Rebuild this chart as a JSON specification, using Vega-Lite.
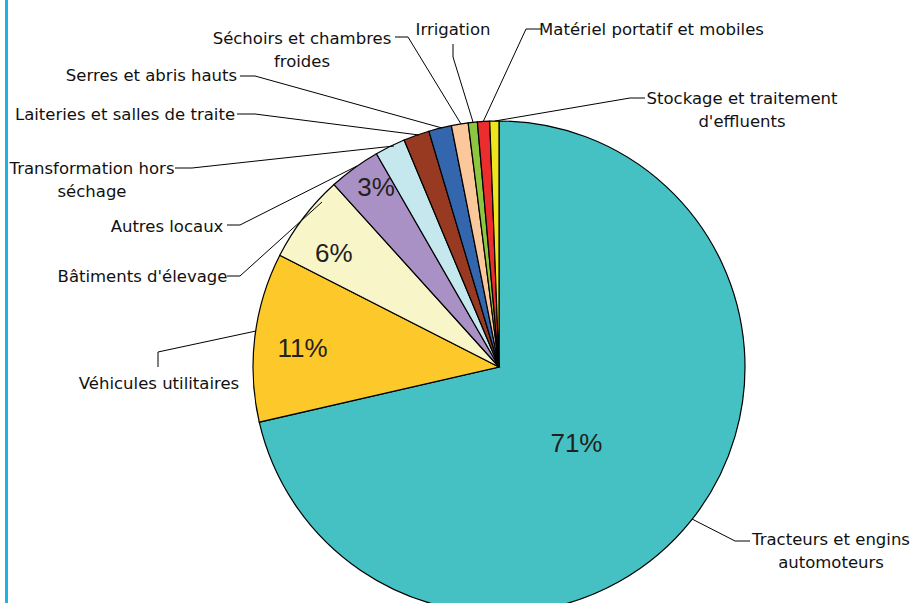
{
  "$schema": "https://vega.github.io/schema/vega-lite/v6.json",
  "width": 915,
  "height": 603,
  "padding": 0,
  "autosize": {"type": "none"},
  "background": "white",
  "config": {"view": {"stroke": null}, "font": "Liberation Sans"},
  "datasets": {
    "slices": [
      {"i": 1, "name": "Tracteurs et engins automoteurs", "v": 0.714},
      {"i": 2, "name": "Véhicules utilitaires", "v": 0.111},
      {"i": 3, "name": "Bâtiments d'élevage", "v": 0.058},
      {"i": 4, "name": "Autres locaux", "v": 0.034},
      {"i": 5, "name": "Transformation hors séchage", "v": 0.020},
      {"i": 6, "name": "Laiteries et salles de traite", "v": 0.017},
      {"i": 7, "name": "Serres et abris hauts", "v": 0.015},
      {"i": 8, "name": "Séchoirs et chambres froides", "v": 0.011},
      {"i": 9, "name": "Irrigation", "v": 0.006},
      {"i": 10, "name": "Matériel portatif et mobiles", "v": 0.008},
      {"i": 11, "name": "Stockage et traitement d'effluents", "v": 0.006}
    ],
    "labels": [
      {"name": "Séchoirs et chambres froides", "label": "Séchoirs et chambres\nfroides", "x": -197, "y": 328.5},
      {"name": "Irrigation", "label": "Irrigation", "x": -46, "y": 337},
      {"name": "Matériel portatif et mobiles", "label": "Matériel portatif et mobiles", "x": 152.5, "y": 337},
      {"name": "Stockage et traitement d'effluents", "label": "Stockage et traitement\nd'effluents", "x": 243, "y": 268.5},
      {"name": "Serres et abris hauts", "label": "Serres et abris hauts", "x": -347.5, "y": 291},
      {"name": "Laiteries et salles de traite", "label": "Laiteries et salles de traite", "x": -374, "y": 252},
      {"name": "Transformation hors séchage", "label": "Transformation hors\nséchage", "x": -407, "y": 198},
      {"name": "Autres locaux", "label": "Autres locaux", "x": -332, "y": 140},
      {"name": "Bâtiments d'élevage", "label": "Bâtiments d'élevage", "x": -356.5, "y": 90},
      {"name": "Véhicules utilitaires", "label": "Véhicules utilitaires", "x": -340, "y": -17},
      {"name": "Tracteurs et engins automoteurs", "label": "Tracteurs et engins\nautomoteurs", "x": 332, "y": -173}
    ],
    "leaders": [
      {"name": "Séchoirs", "k": 0, "x": -104, "y": 330},
      {"name": "Séchoirs", "k": 1, "x": -91, "y": 330},
      {"name": "Séchoirs", "k": 2, "x": -38, "y": 243},
      {"name": "Irrigation", "k": 0, "x": -46, "y": 323},
      {"name": "Irrigation", "k": 1, "x": -46, "y": 310},
      {"name": "Irrigation", "k": 2, "x": -26, "y": 245},
      {"name": "Matériel", "k": 0, "x": 42, "y": 338},
      {"name": "Matériel", "k": 1, "x": 27, "y": 338},
      {"name": "Matériel", "k": 2, "x": -16, "y": 245},
      {"name": "Stockage", "k": 0, "x": 146, "y": 269},
      {"name": "Stockage", "k": 1, "x": 131, "y": 269},
      {"name": "Stockage", "k": 2, "x": -4, "y": 246},
      {"name": "Serres", "k": 0, "x": -259, "y": 291},
      {"name": "Serres", "k": 1, "x": -244, "y": 291},
      {"name": "Serres", "k": 2, "x": -57, "y": 239},
      {"name": "Laiteries", "k": 0, "x": -262, "y": 253},
      {"name": "Laiteries", "k": 1, "x": -244, "y": 253},
      {"name": "Laiteries", "k": 2, "x": -80, "y": 232},
      {"name": "Transformation", "k": 0, "x": -324, "y": 199},
      {"name": "Transformation", "k": 1, "x": -307, "y": 199},
      {"name": "Transformation", "k": 2, "x": -105, "y": 221},
      {"name": "Autres", "k": 0, "x": -272, "y": 142},
      {"name": "Autres", "k": 1, "x": -259, "y": 142},
      {"name": "Autres", "k": 2, "x": -142, "y": 201},
      {"name": "Bâtiments", "k": 0, "x": -272, "y": 91},
      {"name": "Bâtiments", "k": 1, "x": -259, "y": 91},
      {"name": "Bâtiments", "k": 2, "x": -177, "y": 165},
      {"name": "Véhicules", "k": 0, "x": -341, "y": 0},
      {"name": "Véhicules", "k": 1, "x": -341, "y": 15},
      {"name": "Véhicules", "k": 2, "x": -243, "y": 36},
      {"name": "Tracteurs", "k": 0, "x": 251, "y": -174},
      {"name": "Tracteurs", "k": 1, "x": 236, "y": -174},
      {"name": "Tracteurs", "k": 2, "x": 193, "y": -152}
    ],
    "frame": [{"x": -492.5}]
  },
  "layer": [
    {
      "data": {"name": "slices"},
      "mark": {"type": "arc", "radius": 246, "stroke": "#000000", "strokeWidth": 1.2},
      "encoding": {
        "x": {"datum": 0, "type": "quantitative", "scale": {"domain": [-499, 416], "nice": false, "zero": false}, "axis": null},
        "y": {"datum": 0, "type": "quantitative", "scale": {"domain": [-236, 367], "nice": false, "zero": false}, "axis": null},
        "theta": {"field": "v", "type": "quantitative", "stack": true},
        "order": {"field": "i", "type": "quantitative"},
        "color": {
          "field": "name",
          "type": "nominal",
          "scale": {
            "domain": ["Tracteurs et engins automoteurs", "Véhicules utilitaires", "Bâtiments d'élevage", "Autres locaux", "Transformation hors séchage", "Laiteries et salles de traite", "Serres et abris hauts", "Séchoirs et chambres froides", "Irrigation", "Matériel portatif et mobiles", "Stockage et traitement d'effluents"],
            "range": ["#45C1C3", "#FDC82A", "#F8F6C9", "#A991C6", "#C5E7EE", "#983A22", "#3466AE", "#FAC89A", "#8DC640", "#EC2D2D", "#EEE61C"]
          },
          "legend": null
        }
      }
    },
    {
      "data": {"name": "slices"},
      "mark": {"type": "text", "radius": 99, "dy": 15, "fontSize": 26, "font": "Liberation Sans", "color": "#231F20", "align": "center", "baseline": "middle"},
      "encoding": {
        "x": {"datum": 0, "type": "quantitative", "scale": {"domain": [-499, 416], "nice": false, "zero": false}, "axis": null},
        "y": {"datum": 0, "type": "quantitative", "scale": {"domain": [-236, 367], "nice": false, "zero": false}, "axis": null},
        "theta": {"field": "v", "type": "quantitative", "stack": true},
        "order": {"field": "i", "type": "quantitative"},
        "text": {"condition": {"test": "datum.i == 1", "field": "v", "type": "quantitative", "format": ".0%"}, "value": ""}
      }
    },
    {
      "data": {"name": "slices"},
      "mark": {"type": "text", "radius": 198, "dy": 6, "fontSize": 26, "font": "Liberation Sans", "color": "#231F20", "align": "center", "baseline": "middle"},
      "encoding": {
        "x": {"datum": 0, "type": "quantitative", "scale": {"domain": [-499, 416], "nice": false, "zero": false}, "axis": null},
        "y": {"datum": 0, "type": "quantitative", "scale": {"domain": [-236, 367], "nice": false, "zero": false}, "axis": null},
        "theta": {"field": "v", "type": "quantitative", "stack": true},
        "order": {"field": "i", "type": "quantitative"},
        "text": {"condition": {"test": "datum.i == 2", "field": "v", "type": "quantitative", "format": ".0%"}, "value": ""}
      }
    },
    {
      "data": {"name": "slices"},
      "mark": {"type": "text", "radius": 208, "dy": 13, "fontSize": 26, "font": "Liberation Sans", "color": "#231F20", "align": "center", "baseline": "middle"},
      "encoding": {
        "x": {"datum": 0, "type": "quantitative", "scale": {"domain": [-499, 416], "nice": false, "zero": false}, "axis": null},
        "y": {"datum": 0, "type": "quantitative", "scale": {"domain": [-236, 367], "nice": false, "zero": false}, "axis": null},
        "theta": {"field": "v", "type": "quantitative", "stack": true},
        "order": {"field": "i", "type": "quantitative"},
        "text": {"condition": {"test": "datum.i == 3", "field": "v", "type": "quantitative", "format": ".0%"}, "value": ""}
      }
    },
    {
      "data": {"name": "slices"},
      "mark": {"type": "text", "radius": 209, "dy": -10, "fontSize": 26, "font": "Liberation Sans", "color": "#231F20", "align": "center", "baseline": "middle"},
      "encoding": {
        "x": {"datum": 0, "type": "quantitative", "scale": {"domain": [-499, 416], "nice": false, "zero": false}, "axis": null},
        "y": {"datum": 0, "type": "quantitative", "scale": {"domain": [-236, 367], "nice": false, "zero": false}, "axis": null},
        "theta": {"field": "v", "type": "quantitative", "stack": true},
        "order": {"field": "i", "type": "quantitative"},
        "text": {"condition": {"test": "datum.i == 4", "field": "v", "type": "quantitative", "format": ".0%"}, "value": ""}
      }
    },
    {
      "data": {"name": "leaders"},
      "mark": {"type": "line", "color": "#000000", "strokeWidth": 1},
      "encoding": {
        "x": {"field": "x", "type": "quantitative", "scale": {"domain": [-499, 416], "nice": false, "zero": false}, "axis": null},
        "y": {"field": "y", "type": "quantitative", "scale": {"domain": [-236, 367], "nice": false, "zero": false}, "axis": null},
        "detail": {"field": "name", "type": "nominal"},
        "order": {"field": "k", "type": "quantitative"}
      }
    },
    {
      "data": {"name": "labels"},
      "mark": {"type": "text", "fontSize": 16.5, "font": "DejaVu Sans", "lineBreak": "\n", "lineHeight": 23, "align": "center", "baseline": "middle", "color": "#111111"},
      "encoding": {
        "x": {"field": "x", "type": "quantitative", "scale": {"domain": [-499, 416], "nice": false, "zero": false}, "axis": null},
        "y": {"field": "y", "type": "quantitative", "scale": {"domain": [-236, 367], "nice": false, "zero": false}, "axis": null},
        "text": {"field": "label", "type": "nominal"}
      }
    },
    {
      "data": {"name": "frame"},
      "mark": {"type": "rule", "color": "#1DB3E6", "strokeWidth": 3},
      "encoding": {
        "x": {"field": "x", "type": "quantitative", "scale": {"domain": [-499, 416], "nice": false, "zero": false}, "axis": null}
      }
    }
  ]
}
